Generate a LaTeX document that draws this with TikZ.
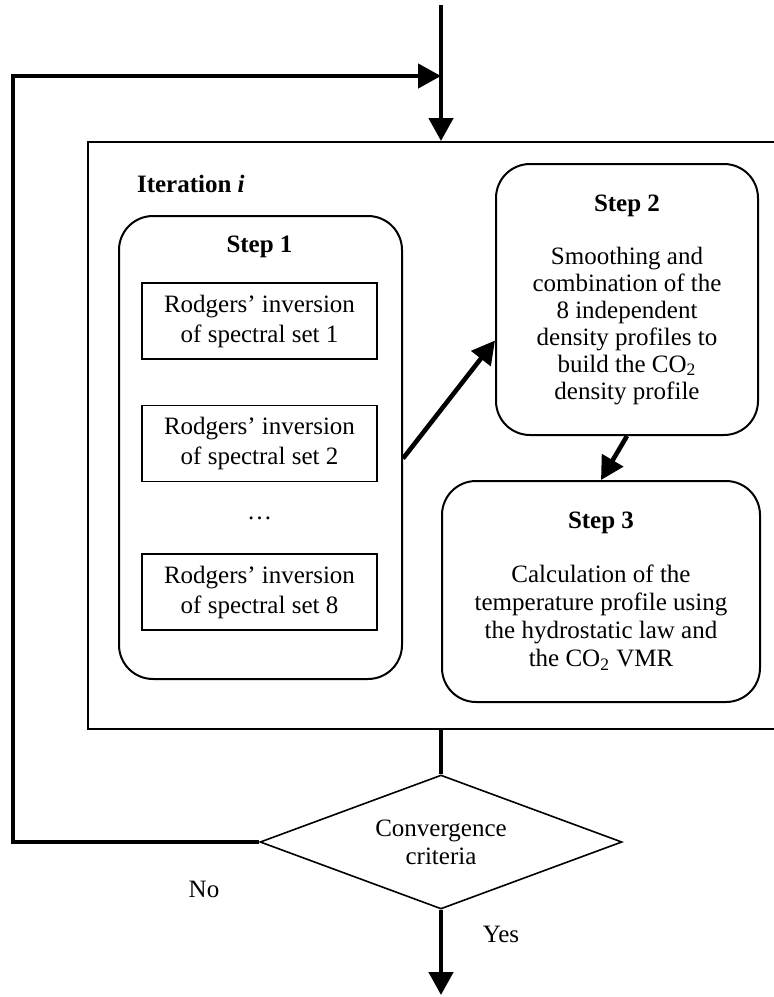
\documentclass[tikz,border=0pt]{standalone}
\usepackage{fontspec}
\setmainfont{Liberation Serif}
\usetikzlibrary{shapes.geometric,arrows.meta,calc}

\tikzset{
  stepbox/.style={draw, line width=1pt, rounded corners=17pt, align=center},
  invbox/.style={draw, line width=0.8pt, minimum width=117.5pt, minimum height=38pt, align=center, inner sep=0pt},
  flow/.style={line width=2.3pt, -{Triangle[length=11.5pt,width=12pt]}},
  link/.style={line width=2.3pt}
}

\begin{document}
\begin{tikzpicture}[x=0.5pt,y=-0.5pt,font=\fontsize{12.5}{14}\selectfont]
			\useasboundingbox (0,0) rectangle (774,997);
			
			% Define coordinates
			\coordinate (top) at (441,5);
			\coordinate (loop) at (13,76);
			\coordinate (join) at (441,76);
			\coordinate (out) at (441,995);
			
			% Iteration frame (its right side lies past the page edge)
			\node[draw, line width=1pt, minimum width=346pt, minimum height=293.5pt] (iter) at (434,435.5) {};
			\node[anchor=base west, font=\fontsize{12.5}{14}\selectfont\bfseries] (itlabel) at (130,192) {Iteration \textit{i}};
			
			% Step 1 with the inversions
			\node[stepbox, minimum width=141.5pt, minimum height=231.5pt] (step1) at (260.5,447.5) {};
			\node[font=\fontsize{12.5}{14}\selectfont\bfseries] (s1title) at (259.5,247) {Step 1};
			\foreach \k/\y in {1/321, 2/443.5, 8/592} {
				\node[invbox, font=\fontsize{12.5}{15}\selectfont] (inv\k) at (259.5,\y) {Rodgers’ inversion\\of spectral set \k};
			}
			\node (dots) at (259.5,518) {…};
			
			% Step 2 and Step 3
			\node[stepbox, minimum width=131pt, minimum height=135.5pt, font=\fontsize{12.5}{13.5}\selectfont] (step2) at (627,299.5)
				{\textbf{Step 2}\\[13pt]Smoothing and\\combination of the\\8 independent\\density profiles to\\build the CO\textsubscript{2}\\density profile};
			\node[stepbox, minimum width=159pt, minimum height=110.5pt] (step3) at (601,591.5)
				{\textbf{Step 3}\\[13pt]Calculation of the\\temperature profile using\\the hydrostatic law and\\the CO\textsubscript{2} VMR};
			
			% Convergence test
			\node[draw, line width=0.8pt, diamond, aspect=2.7, minimum width=181pt, minimum height=67pt, inner sep=0pt, align=center] (conv) at (441,842) {Convergence\\criteria};
			
			% Draw arrows
			\draw[flow] (top) -- (top |- iter.north);
			\draw[flow] ($(step1.east)+(0,11)$) -- ($(step2.west)+(0,41)$);
			\draw[flow] (step2.south) -- (step3.north);
			\draw[link] (iter.south -| top) -- (conv.north);
			\draw[flow] (conv.south) -- (out);
			\draw[flow] (conv.west) -| (loop) -- (join);
			
			% Add labels
			\node (no) at (204,889) {No};
			\node (yes) at (501,934) {Yes};
		\end{tikzpicture}
\end{document}
